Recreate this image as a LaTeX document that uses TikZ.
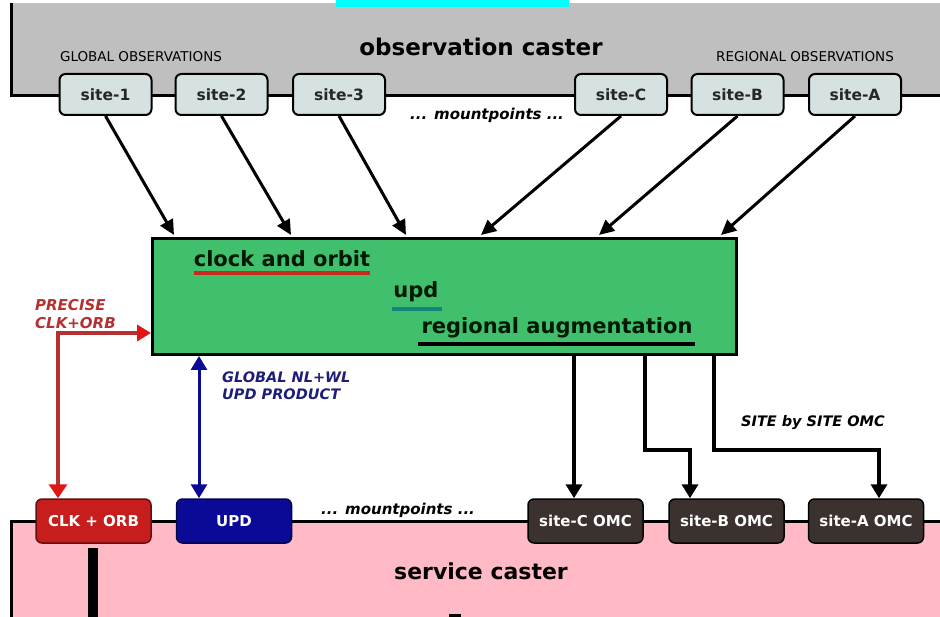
\documentclass[tikz,border=0pt]{standalone}
\usepackage{fontspec}
\setmainfont{DejaVu Sans}
\usetikzlibrary{arrows.meta}

\definecolor{obsgray}{HTML}{BFBFBF}
\definecolor{servpink}{HTML}{FFBAC6}
\definecolor{sitefill}{HTML}{D6E2E2}
\definecolor{procgreen}{HTML}{40BF6C}
\definecolor{clkred}{HTML}{C81D1D}
\definecolor{updblue}{HTML}{0A0A96}
\definecolor{omcdark}{HTML}{3B3230}
\definecolor{precred}{HTML}{B53030}
\definecolor{tipred}{HTML}{E01515}
\definecolor{navytext}{HTML}{1E1E78}
\definecolor{lineteal}{HTML}{13867C}
\definecolor{linered}{HTML}{C82A1E}
\definecolor{topcyan}{RGB}{0,255,255}

\begin{document}
\begin{tikzpicture}[x=1pt, y=-1pt,
		sitebox/.style={draw=black, line width=2pt, rounded corners=6pt, fill=sitefill,
			minimum width=92pt, minimum height=41pt, text=black!85,
			font=\fontsize{15.5}{18}\selectfont\bfseries},
		outbox/.style={draw=black!80, line width=1.5pt, rounded corners=6pt, text=white,
			minimum width=115pt, minimum height=44pt,
			font=\fontsize{15}{17}\selectfont\bfseries},
		proctext/.style={inner sep=0pt, text=black!90!green,
			font=\fontsize{21}{25}\selectfont\bfseries},
		note/.style={align=left, anchor=west, inner sep=0pt,
			font=\fontsize{14.5}{17}\selectfont\bfseries\itshape},
		feed/.style={line width=3pt, -{Triangle[length=15pt,width=14pt]}},
		omcfeed/.style={line width=4.5pt, -{Triangle[length=14pt,width=16pt]}},
		dualfeed/.style={line width=3.5pt,
			{Triangle[length=14pt,width=16pt]}-{Triangle[length=14pt,width=16pt]}}]
	
	\useasboundingbox (0,0) rectangle (940,617);
	
	% Top casters
	\fill[obsgray] (10,3) rectangle (940,96);
	\fill[topcyan] (336,0) rectangle (569,7);
	\draw[line width=3pt] (11,3) -- (11,96) -- (940,96);
	\node[font=\fontsize{23}{27}\selectfont\bfseries] (obstitle) at (481,47) {observation caster};
	\node[font=\fontsize{13.5}{16}\selectfont] (globobs) at (141,57) {GLOBAL OBSERVATIONS};
	\node[font=\fontsize{13.5}{16}\selectfont] (regobs) at (805,57) {REGIONAL OBSERVATIONS};
	\node[note, anchor=center, font=\fontsize{15}{17}\selectfont\bfseries\itshape] (obsmount) at (487,115) {... mountpoints ...};
	
	% Draw the observation mountpoints
	\foreach \name/\x/\lbl in {s1/105.5/site-1, s2/221.5/site-2, s3/339/site-3,
		sC/621/site-C, sB/737.5/site-B, sA/855/site-A}
	\node[sitebox] (\name) at (\x,94.5) {\lbl};
	
	% Processing centre
	\node[draw, line width=3pt, fill=procgreen, minimum width=584pt, minimum height=116pt]
	(proc) at (444.5,296.5) {};
	\node[proctext] (co) at (282,259) {clock and orbit};
	\node[proctext] (ud) at (416,292) {upd};
	\node[proctext] (ra) at (557,328) {regional augmentation};
	\draw[linered, line width=4pt] (co.west |- 0,273) -- (co.east |- 0,273);
	\draw[lineteal, line width=4pt] ([xshift=-1pt]ud.west |- 0,309) -- ([xshift=3pt]ud.east |- 0,309);
	\draw[black, line width=4pt] ([xshift=-3pt]ra.west |- 0,344) -- ([xshift=2pt]ra.east |- 0,344);
	
	% Observation streams into the centre
	\foreach \name/\ex in {s1/174, s2/291, s3/406, sC/481, sB/599, sA/721} {
		\coordinate (\name-in) at (\ex,235);
		\draw[feed] (\name.south) -- (\name-in);
	}
	
	% Service caster
	\fill[servpink] (10,521) rectangle (940,617);
	\draw[line width=3pt] (11,617) -- (11,521) -- (940,521);
	\node[font=\fontsize{22}{26}\selectfont\bfseries] (servtitle) at (481,571) {service caster};
	\node[note, anchor=center, font=\fontsize{15}{17}\selectfont\bfseries\itshape] (servmount) at (398,510) {... mountpoints ...};
	\fill (88,548) rectangle (98,617);
	\fill (449,614) rectangle (461,617);
	
	\node[outbox, fill=clkred, draw=clkred!50!black] (clk) at (93.5,521) {CLK + ORB};
	\node[outbox, fill=updblue, draw=updblue!50!black] (upd) at (234,521) {UPD};
	\node[outbox, fill=omcdark, draw=black] (omcC) at (585.5,521) {site-C OMC};
	\node[outbox, fill=omcdark, draw=black] (omcB) at (726.5,521) {site-B OMC};
	\node[outbox, fill=omcdark, draw=black] (omcA) at (866,521) {site-A OMC};
	
	% Precise clock and orbit product
	\coordinate (redcorner) at (58,333);
	\draw[dualfeed, precred, {Triangle[length=14pt,width=18pt,color=tipred]}-{Triangle[length=14pt,width=16pt,color=tipred]}]
	(clk.north -| redcorner) -- (redcorner) -- (redcorner -| proc.west);
	\node[note, text=precred, font=\fontsize{15}{18}\selectfont\bfseries\itshape] (prectext) at (35,314) {PRECISE\\CLK+ORB};
	
	% UPD product
	\coordinate (bluex) at (199,0);
	\draw[dualfeed, updblue, line width=3pt] (upd.north -| bluex) -- (proc.south -| bluex);
	\node[note, text=navytext] (updtext) at (222,386) {GLOBAL NL+WL\\UPD PRODUCT};
	
	% Site by site OMC
	\coordinate (lineC) at (574,450);
	\coordinate (lineB) at (645,450);
	\coordinate (lineA) at (714,450);
	\coordinate (tipB) at (690,450);
	\coordinate (tipA) at (879,450);
	\draw[omcfeed] (proc.south -| lineC) -- (omcC.north -| lineC);
	\draw[omcfeed] (proc.south -| lineB) -- (lineB) -- (tipB) -- (omcB.north -| tipB);
	\draw[omcfeed] (proc.south -| lineA) -- (lineA) -- (tipA) -- (omcA.north -| tipA);
	\node[note, anchor=center] (omctext) at (813,423) {SITE by SITE OMC};
	
\end{tikzpicture}
\end{document}
